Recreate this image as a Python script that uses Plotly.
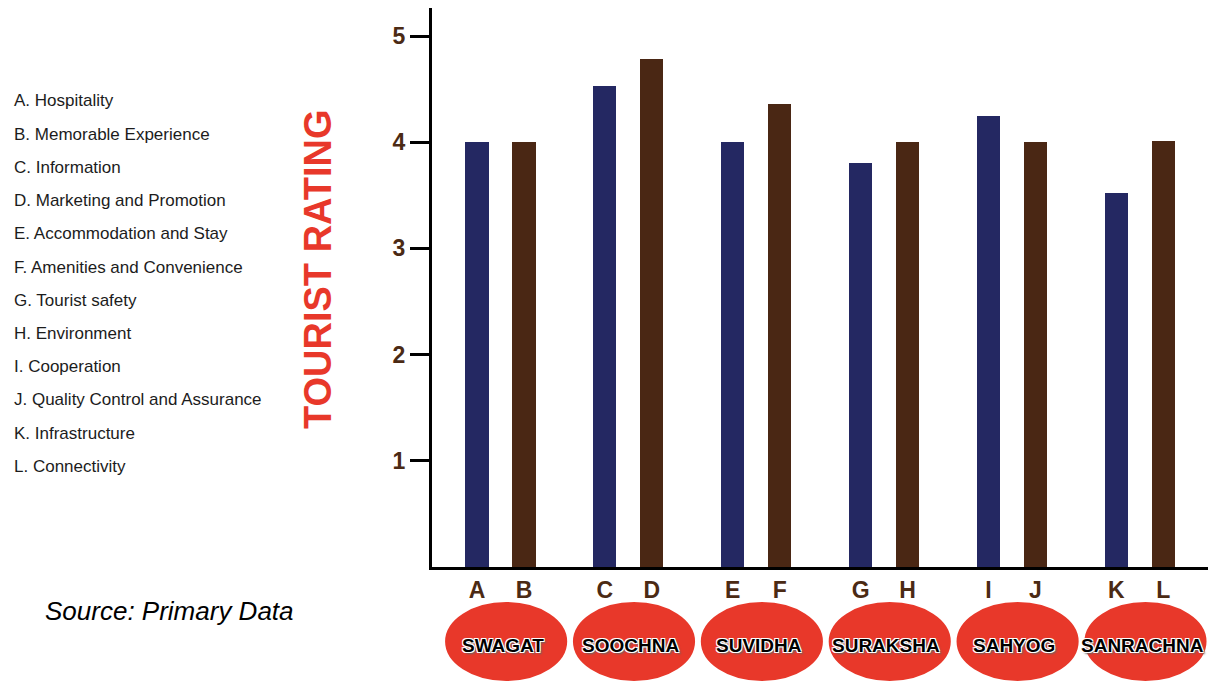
import plotly.graph_objects as go

# ---- data ----
letters = ["A", "B", "C", "D", "E", "F", "G", "H", "I", "J", "K", "L"]
factors = [
    "Hospitality",
    "Memorable Experience",
    "Information",
    "Marketing and Promotion",
    "Accommodation and Stay",
    "Amenities and Convenience",
    "Tourist safety",
    "Environment",
    "Cooperation",
    "Quality Control and Assurance",
    "Infrastructure",
    "Connectivity",
]
ratings = [4.0, 4.0, 4.53, 4.78, 4.0, 4.36, 3.80, 4.0, 4.25, 4.0, 3.52, 4.01]
pillars = ["SWAGAT", "SOOCHNA", "SUVIDHA", "SURAKSHA", "SAHYOG", "SANRACHNA"]
y_ticks = [1, 2, 3, 4, 5]

# ---- styling ----
NAVY = "#242862"
BROWN = "#4a2714"
RED = "#e8382a"
TICK_BROWN = "#4b2a14"
TEXT_DARK = "#1c1c1c"
FONT = "Liberation Sans, Arial, sans-serif"

PAIR_STEP = 2.72          # distance between the first bars of neighbouring pairs
BAR_WIDTH = 0.49

# plot-area geometry in pixels (used to place the free text around the axes)
W, H = 1208, 683
M_L, M_R, M_T, M_B = 432, 0, 8, 116
PW = W - M_L - M_R
PH = H - M_T - M_B


def px_x(px):
    return (px - M_L) / PW


def px_y(py):
    return (H - M_B - py) / PH


x_pos = [(i // 2) * PAIR_STEP + (i % 2) for i in range(len(letters))]
bar_colors = [NAVY if i % 2 == 0 else BROWN for i in range(len(letters))]

fig = go.Figure()
fig.add_trace(
    go.Bar(
        x=x_pos,
        y=ratings,
        width=BAR_WIDTH,
        marker=dict(color=bar_colors, line=dict(width=0)),
        hovertext=[f"{l}. {f}" for l, f in zip(letters, factors)],
        showlegend=False,
    )
)

shapes = []
annotations = []

# red ovals naming each pillar, under its pair of bars
for g, name in enumerate(pillars):
    pair_mid = g * PAIR_STEP + 0.5
    cx = pair_mid + 0.12
    shapes.append(
        dict(
            type="circle",
            xref="x",
            yref="paper",
            x0=cx - 1.32,
            x1=cx + 1.32,
            y0=px_y(682),
            y1=px_y(601),
            fillcolor=RED,
            line=dict(color="white", width=2),
            layer="above",
        )
    )
    annotations.append(
        dict(
            x=pair_mid + 0.05,
            xref="x",
            y=px_y(645),
            yref="paper",
            text=f"<b>{name}</b>",
            showarrow=False,
            xanchor="center",
            yanchor="middle",
            font=dict(
                family=FONT,
                size=19,
                color="black",
                shadow="-1px -1px 0 #fff, 1px -1px 0 #fff, -1px 1px 0 #fff, "
                "1px 1px 0 #fff, 2px 2px 2px #666",
            ),
        )
    )

# key of factor letters on the left
for i, (l, f) in enumerate(zip(letters, factors)):
    annotations.append(
        dict(
            x=px_x(12),
            xref="paper",
            y=px_y(101 + 33.2 * i),
            yref="paper",
            text=f"{l}. {f}",
            showarrow=False,
            xanchor="left",
            yanchor="middle",
            font=dict(family=FONT, size=17, color=TEXT_DARK),
        )
    )

annotations.append(
    dict(
        x=px_x(43),
        xref="paper",
        y=px_y(611),
        yref="paper",
        text="<i>Source: Primary Data</i>",
        showarrow=False,
        xanchor="left",
        yanchor="middle",
        font=dict(family=FONT, size=26, color="black"),
    )
)

annotations.append(
    dict(
        x=px_x(318),
        xref="paper",
        y=px_y(270),
        yref="paper",
        text="<b>TOURIST RATING</b>",
        textangle=-90,
        showarrow=False,
        xanchor="center",
        yanchor="middle",
        font=dict(family=FONT, size=38, color=RED),
    )
)

fig.update_layout(
    width=W,
    height=H,
    margin=dict(l=M_L, r=M_R, t=M_T, b=M_B, pad=0),
    paper_bgcolor="white",
    plot_bgcolor="white",
    shapes=shapes,
    annotations=annotations,
    bargap=0,
    xaxis=dict(
        range=[-0.957, 15.55],
        tickvals=x_pos,
        ticktext=[f"<b>{l}</b>" for l in letters],
        tickfont=dict(family=FONT, size=23, color=TICK_BROWN),
        showline=True,
        linecolor="black",
        linewidth=3,
        ticks="",
        showgrid=False,
        zeroline=False,
        fixedrange=True,
    ),
    yaxis=dict(
        range=[0, 5.264],
        tickvals=y_ticks,
        ticktext=[f"<b>{v}</b>" for v in y_ticks],
        tickfont=dict(family=FONT, size=23, color=TICK_BROWN),
        showline=True,
        linecolor="black",
        linewidth=3,
        ticks="outside",
        ticklen=19,
        tickwidth=3,
        tickcolor="black",
        showgrid=False,
        zeroline=False,
        fixedrange=True,
    ),
)

fig.write_html("out.html")
